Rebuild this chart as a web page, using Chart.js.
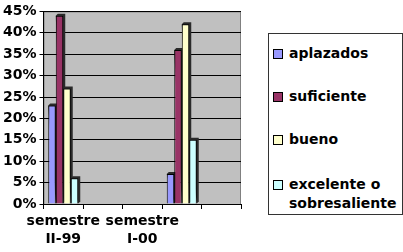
<!DOCTYPE html>
<html>
<head>
<meta charset="utf-8">
<script src="https://cdn.jsdelivr.net/npm/chart.js@4"></script>
<style>
  html, body { margin: 0; padding: 0; background: #fff; }
  #wrap { position: relative; width: 403px; height: 252px; }
  #legend {
    position: absolute; left: 268px; top: 33px; width: 133px; height: 180px;
    border: 1px solid #333; background: #fff;
    font: bold 14px "DejaVu Sans", sans-serif; color: #000;
  }
  .item { position: absolute; left: 4px; line-height: 19px; }
  .box { position: absolute; left: 0; top: 5px; width: 8px; height: 8px; border: 1px solid #000; }
  .txt { position: absolute; left: 16px; top: 0; width: 115px; }
</style>
</head>
<body>
<div id="wrap">
  <canvas id="c" width="403" height="252"></canvas>
  <div id="legend"></div>
</div>
<script>
const categories = [['semestre', 'II-99'], '', ['semestre', 'I-00'], '', ''];
const seriesNames = ['aplazados', 'suficiente', 'bueno', 'excelente o sobresaliente'];
const aplazados = [23, null, null, 7, null];
const suficiente = [44, null, null, 36, null];
const bueno = [27, null, null, 42, null];
const excelente = [6, null, null, 15, null];
const yTicks = [0, 5, 10, 15, 20, 25, 30, 35, 40, 45];

const colors = ['#9999FF', '#993366', '#FFFFCC', '#CCFFFF'];
const series = [aplazados, suficiente, bueno, excelente];
const font = { family: 'DejaVu Sans', size: 14, weight: 'bold' };

// grey back wall + little 3d sides on the bars
const plotBg = {
  id: 'plotBg',
  beforeDraw(chart) {
    const { ctx, chartArea: a } = chart;
    ctx.save();
    ctx.fillStyle = '#C0C0C0';
    ctx.fillRect(a.left, a.top, a.right - a.left, a.bottom - a.top);
    ctx.strokeStyle = '#808080';
    ctx.lineWidth = 1;
    ctx.strokeRect(a.left + 0.5, a.top + 0.5, a.right - a.left - 1, a.bottom - a.top);
    ctx.restore();
  },
  beforeDatasetsDraw(chart) {
    const ctx = chart.ctx;
    const d = 2;
    ctx.save();
    ctx.fillStyle = '#2a2a2a';
    chart.data.datasets.forEach((ds, i) => {
      chart.getDatasetMeta(i).data.forEach((bar, j) => {
        if (ds.data[j] == null) return;
        const { x, y, base, width } = bar.getProps(['x', 'y', 'base', 'width'], true);
        const l = x - width / 2, r = x + width / 2;
        ctx.beginPath();
        ctx.moveTo(l, y);
        ctx.lineTo(l + d, y - d);
        ctx.lineTo(r + d, y - d);
        ctx.lineTo(r + d, base - d);
        ctx.lineTo(r, base);
        ctx.closePath();
        ctx.fill();
      });
    });
    ctx.restore();
  }
};

new Chart(document.getElementById('c'), {
  type: 'bar',
  data: {
    labels: categories,
    datasets: series.map((data, i) => ({
      label: seriesNames[i],
      data: data,
      backgroundColor: colors[i],
      borderColor: '#000',
      borderWidth: 1,
      barPercentage: 1,
      categoryPercentage: 0.76
    }))
  },
  options: {
    responsive: false,
    animation: false,
    layout: { padding: { top: 6, right: 162, bottom: 0, left: 0 } },
    plugins: { legend: { display: false }, tooltip: { enabled: false } },
    scales: {
      x: {
        grid: { drawOnChartArea: false, color: '#000', tickLength: 5 },
        border: { color: '#000' },
        ticks: { color: '#000', font: { ...font, lineHeight: 1.25 }, maxRotation: 0, autoSkip: false, padding: 4 }
      },
      y: {
        min: 0,
        max: 45,
        afterBuildTicks(axis) { axis.ticks = yTicks.map(v => ({ value: v })); },
        grid: { color: '#000', tickLength: 4 },
        border: { color: '#000' },
        ticks: { color: '#000', font: font, padding: 3, callback: v => v + '%' }
      }
    }
  },
  plugins: [plotBg]
});

// legend drawn as html so the long name can wrap
const tops = [10, 53, 96, 141];
const legend = document.getElementById('legend');
seriesNames.forEach((name, i) => {
  const it = document.createElement('div');
  it.className = 'item';
  it.style.top = tops[i] + 'px';
  it.innerHTML = '<span class="box" style="background:' + colors[i] + '"></span><span class="txt">' + name + '</span>';
  legend.appendChild(it);
});
</script>
</body>
</html>
